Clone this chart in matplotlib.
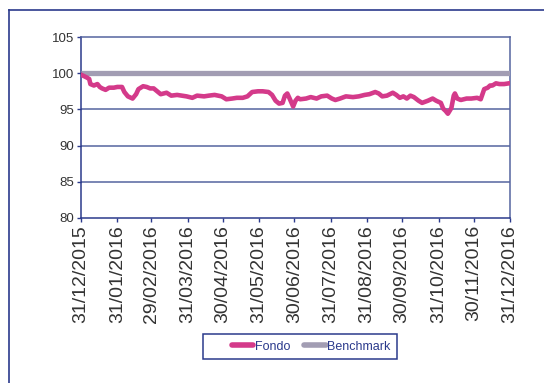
import matplotlib
matplotlib.use("Agg")
import matplotlib.pyplot as plt
from matplotlib.lines import Line2D
from matplotlib.patches import Rectangle
import pandas as pd

plt.rcParams['font.family'] = ['Liberation Sans', 'DejaVu Sans']

# Fund performance series (base 100 at 31/12/2015)
fondo_dates = [
    "2015-12-31", "2016-01-05", "2016-01-07", "2016-01-08", "2016-01-11", "2016-01-14",
    "2016-01-16", "2016-01-18", "2016-01-21", "2016-01-24", "2016-01-28", "2016-01-31",
    "2016-02-04", "2016-02-06", "2016-02-09", "2016-02-13", "2016-02-16", "2016-02-18",
    "2016-02-22", "2016-02-25", "2016-02-28", "2016-03-02", "2016-03-05", "2016-03-08",
    "2016-03-13", "2016-03-17", "2016-03-22", "2016-03-26", "2016-03-30", "2016-04-04",
    "2016-04-08", "2016-04-14", "2016-04-18", "2016-04-23", "2016-04-29", "2016-05-03",
    "2016-05-08", "2016-05-12", "2016-05-17", "2016-05-21", "2016-05-25", "2016-05-30",
    "2016-06-03", "2016-06-08", "2016-06-11", "2016-06-14", "2016-06-17", "2016-06-20",
    "2016-06-22", "2016-06-24", "2016-06-26", "2016-06-29", "2016-07-01", "2016-07-03",
    "2016-07-05", "2016-07-10", "2016-07-14", "2016-07-19", "2016-07-23", "2016-07-28",
    "2016-08-01", "2016-08-04", "2016-08-08", "2016-08-13", "2016-08-19", "2016-08-24",
    "2016-08-29", "2016-09-02", "2016-09-07", "2016-09-10", "2016-09-13", "2016-09-17",
    "2016-09-22", "2016-09-25", "2016-09-28", "2016-10-01", "2016-10-04", "2016-10-07",
    "2016-10-10", "2016-10-14", "2016-10-17", "2016-10-22", "2016-10-26", "2016-10-29",
    "2016-11-02", "2016-11-04", "2016-11-06", "2016-11-08", "2016-11-11", "2016-11-13",
    "2016-11-14", "2016-11-16", "2016-11-19", "2016-11-24", "2016-11-28", "2016-12-03",
    "2016-12-06", "2016-12-09", "2016-12-12", "2016-12-14", "2016-12-16", "2016-12-19",
    "2016-12-22", "2016-12-26", "2016-12-30", "2016-12-31",
]
fondo_values = [
    99.8, 99.4, 99.2, 98.5, 98.3, 98.5,
    98.1, 97.9, 97.7, 98.0, 98.0, 98.1,
    98.1, 97.4, 96.8, 96.5, 97.1, 97.8,
    98.2, 98.1, 97.9, 97.9, 97.5, 97.1,
    97.3, 96.9, 97.0, 96.9, 96.8, 96.6,
    96.9, 96.8, 96.9, 97.0, 96.8, 96.4,
    96.5, 96.6, 96.6, 96.8, 97.4, 97.5,
    97.5, 97.4, 97.0, 96.2, 95.8, 95.9,
    96.9, 97.2, 96.5, 95.4, 96.2, 96.6,
    96.4, 96.5, 96.7, 96.5, 96.8, 96.9,
    96.5, 96.3, 96.5, 96.8, 96.7, 96.8,
    97.0, 97.1, 97.4, 97.2, 96.8, 96.9,
    97.3, 97.0, 96.6, 96.8, 96.5, 96.9,
    96.7, 96.2, 95.9, 96.2, 96.5, 96.2,
    95.9, 95.1, 94.8, 94.4, 95.2, 96.9,
    97.2, 96.5, 96.3, 96.5, 96.5, 96.6,
    96.4, 97.8, 98.0, 98.3, 98.3, 98.6,
    98.5, 98.5, 98.6, 98.6,
]
benchmark_value = 100.0

tick_dates = [
    "2015-12-31", "2016-01-31", "2016-02-29", "2016-03-31", "2016-04-30",
    "2016-05-31", "2016-06-30", "2016-07-31", "2016-08-31", "2016-09-30",
    "2016-10-31", "2016-11-30", "2016-12-31",
]
y_ticks = [80, 85, 90, 95, 100, 105]

NAVY = "#2b3a8c"
GRID = "#55649f"
FONDO_C = "#d43a8a"
BENCH_C = "#a29db3"
TEXT_C = "#333333"

fd = pd.to_datetime(fondo_dates)
td = pd.to_datetime(tick_dates)

W, H = 544, 383
fig = plt.figure(figsize=(W / 100, H / 100), dpi=100)
ax = fig.add_axes([81 / W, 1 - 218 / H, (510 - 81) / W, (218 - 37) / H])

ax.plot([td[0], td[-1]], [benchmark_value, benchmark_value], color=BENCH_C,
        lw=3.8, solid_capstyle='butt', zorder=3)
ax.plot(fd, fondo_values, color=FONDO_C, lw=3.3, solid_joinstyle='round',
        solid_capstyle='round', zorder=4)

ax.set_xlim(td[0], td[-1])
ax.set_ylim(80, 105)
ax.set_yticks(y_ticks)
ax.set_xticks(td)
ax.set_xticklabels([d.strftime("%d/%m/%Y") for d in td], rotation=90,
                   fontsize=14, color=TEXT_C)
ax.tick_params(axis='x', length=3, width=1, color=NAVY, pad=2)
ax.tick_params(axis='y', length=3, width=1, color=NAVY, pad=2, labelsize=9.5,
               labelcolor=TEXT_C)

for v in y_ticks[1:-1]:
    ax.axhline(v, color=GRID, lw=1.1, zorder=1)

for side in ['left', 'bottom']:
    ax.spines[side].set_color(NAVY)
    ax.spines[side].set_linewidth(1.1)
for side in ['top', 'right']:
    ax.spines[side].set_color(GRID)
    ax.spines[side].set_linewidth(1.1)

# Outer frame (left and top edges)
fig.add_artist(Line2D([9 / W, 9 / W], [0, 1 - 10 / H], transform=fig.transFigure,
                      color=NAVY, lw=1.2))
fig.add_artist(Line2D([9 / W, 1], [1 - 10 / H, 1 - 10 / H], transform=fig.transFigure,
                      color=NAVY, lw=1.2))

# Legend box
fig.add_artist(Rectangle((203 / W, 1 - 359 / H), (397 - 203) / W, (359 - 334) / H,
                         transform=fig.transFigure, fill=False, edgecolor=NAVY, lw=1.1))
handles = [Line2D([], [], color=FONDO_C, lw=4.0, solid_capstyle='round'),
           Line2D([], [], color=BENCH_C, lw=4.0, solid_capstyle='round')]
leg = fig.legend(handles, ["Fondo", "Benchmark"], loc='center left',
                 bbox_to_anchor=(232 / W, 1 - 346.5 / H), ncol=2, frameon=False,
                 fontsize=9, handlelength=1.7, handletextpad=0.15,
                 columnspacing=1.1, borderpad=0, borderaxespad=0)
for t in leg.get_texts():
    t.set_color(NAVY)

fig.savefig("out.png", dpi=100)
